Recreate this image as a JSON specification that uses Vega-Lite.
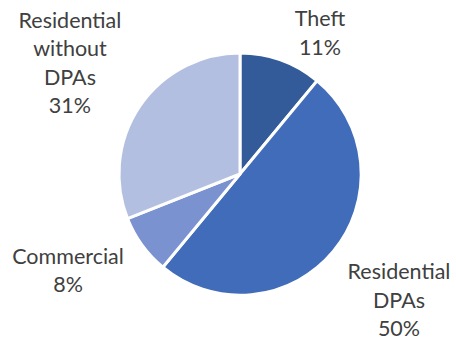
{
  "$schema": "https://vega.github.io/schema/vega-lite/v6.json",
  "width": 432,
  "height": 330,
  "autosize": {"type": "none"},
  "padding": {"left": 24, "top": 9, "right": 0, "bottom": 0},
  "background": "white",
  "config": {"view": {"stroke": null}, "text": {"font": "Lato", "fontSize": 21.5, "lineHeight": 28.5, "lineBreak": "\n", "color": "#404040", "align": "center", "baseline": "middle"}},
  "data": {
    "values": [
      {"category": "Theft", "label": "Theft\n11%", "value": 11, "rank": 1},
      {"category": "Residential DPAs", "label": "Residential\nDPAs\n50%", "value": 50, "rank": 2},
      {"category": "Commercial", "label": "Commercial\n8%", "value": 8, "rank": 3},
      {"category": "Residential without DPAs", "label": "Residential\nwithout\nDPAs\n31%", "value": 31, "rank": 4}
    ]
  },
  "encoding": {
    "theta": {"field": "value", "type": "quantitative", "stack": true},
    "order": {"field": "rank", "type": "quantitative"}
  },
  "layer": [
    {
      "mark": {"type": "arc", "outerRadius": 121, "stroke": "white", "strokeWidth": 3},
      "encoding": {
        "color": {
          "field": "category",
          "type": "nominal",
          "scale": {
            "domain": ["Theft", "Residential DPAs", "Commercial", "Residential without DPAs"],
            "range": ["#335A99", "#406CB9", "#7A92CF", "#B3BFE0"]
          },
          "legend": null
        }
      }
    },
    {
      "mark": {"type": "text", "radius": 173.5, "thetaOffset": 0.1335},
      "encoding": {"text": {"condition": {"test": "datum.category === 'Theft'", "field": "label"}, "value": ""}}
    },
    {
      "mark": {"type": "text", "radius": 187.3, "thetaOffset": -0.134},
      "encoding": {"text": {"condition": {"test": "datum.category === 'Residential DPAs'", "field": "label"}, "value": ""}}
    },
    {
      "mark": {"type": "text", "radius": 191.4, "thetaOffset": 0.174},
      "encoding": {"text": {"condition": {"test": "datum.category === 'Commercial'", "field": "label"}, "value": ""}}
    },
    {
      "mark": {"type": "text", "radius": 228.4, "thetaOffset": 0.134},
      "encoding": {"text": {"condition": {"test": "datum.category === 'Residential without DPAs'", "field": "label"}, "value": ""}}
    }
  ]
}
